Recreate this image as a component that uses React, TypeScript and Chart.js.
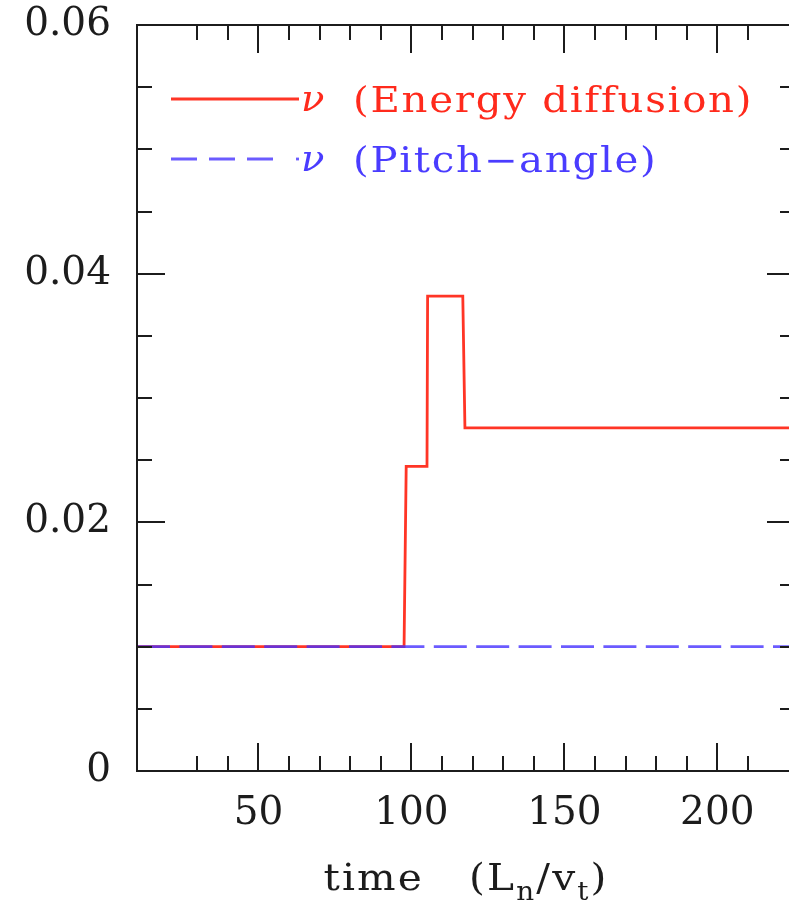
import { useEffect, useRef } from "react";
import { Chart, registerables } from "chart.js";

Chart.register(...registerables);

// Collision frequency for the energy-diffusion operator (step changes in time)
const energyTime = [10.3, 97.6, 98.3, 105.1, 105.3, 116.8, 117.5, 225.4];
const energyNu = [0.01, 0.01, 0.0245, 0.0245, 0.0382, 0.0382, 0.0276, 0.0276];

// Pitch-angle scattering frequency stays constant
const pitchTime = [10.3, 225.4];
const pitchNu = [0.01, 0.01];

const xRange = [10.3, 225.4];
const yRange = [0, 0.06];
const xMajorTicks = [50, 100, 150, 200];
const yMajorTicks = [0, 0.02, 0.04, 0.06];

const legendNames = ["(Energy diffusion)", "(Pitch\u2212angle)"];
const RED = "#ff3526";
const BLUE = "rgba(70, 50, 255, 0.8)";
const RED_TEXT = "#ff2a1c";
const BLUE_TEXT = "#4a3cff";
const INK = "#1c1c1c";
const SERIF = '"DejaVu Serif", serif';

const isMajorY = (v: number) => yMajorTicks.some((m) => Math.abs(m - v) < 1e-9);
const isMajorX = (v: number) => xMajorTicks.some((m) => Math.abs(m - v) < 1e-9);

// Draws text horizontally stretched, starting at x
function wideText(ctx: any, text: string, x: number, y: number, stretch: number, spacing: number) {
  ctx.save();
  ctx.translate(x, y);
  ctx.scale(stretch, 1);
  ctx.letterSpacing = `${spacing}px`;
  ctx.fillText(text, 0, 0);
  const w = ctx.measureText(text).width * stretch;
  ctx.restore();
  return w;
}

// Frame with inward-pointing ticks on all four sides, plus legend and axis title
const framePlugin = {
  id: "frameTicks",
  afterDraw(chart: any) {
    const { ctx, chartArea } = chart;
    const { left, right, top, bottom } = chartArea;
    const xs = chart.scales.x;
    const ys = chart.scales.y;
    ctx.save();
    ctx.strokeStyle = INK;
    ctx.lineWidth = 2;
    ctx.lineCap = "butt";
    ctx.strokeRect(left, top, right - left, bottom - top);

    ctx.beginPath();
    for (const t of xs.ticks) {
      const v = t.value;
      if (v <= xs.min + 1e-6 || v >= xs.max - 1e-6) continue;
      if (Math.abs(v / 10 - Math.round(v / 10)) > 1e-6) continue;
      const px = Math.round(xs.getPixelForValue(v));
      const len = isMajorX(v) ? 28 : 15;
      ctx.moveTo(px, bottom);
      ctx.lineTo(px, bottom - len);
      ctx.moveTo(px, top);
      ctx.lineTo(px, top + len);
    }
    for (const t of ys.ticks) {
      const v = t.value;
      if (v <= ys.min + 1e-9 || v >= ys.max - 1e-9) continue;
      const py = Math.round(ys.getPixelForValue(v));
      const len = isMajorY(v) ? 28 : 15;
      ctx.moveTo(left, py);
      ctx.lineTo(left + len, py);
      ctx.moveTo(right, py);
      ctx.lineTo(right - len, py);
    }
    ctx.stroke();

    // Legend
    const lx0 = 171;
    const lx1 = 299;
    const rows = [
      { y: 99, color: RED, text: RED_TEXT, dashed: false, name: legendNames[0] },
      { y: 159, color: BLUE, text: BLUE_TEXT, dashed: true, name: legendNames[1] },
    ];
    for (const r of rows) {
      ctx.strokeStyle = r.color;
      ctx.lineWidth = 2.8;
      ctx.beginPath();
      if (r.dashed) {
        ctx.setLineDash([26, 12]);
        ctx.moveTo(lx0, r.y);
        ctx.lineTo(lx0 + 102, r.y);
        ctx.stroke();
        ctx.setLineDash([]);
        ctx.beginPath();
        ctx.moveTo(lx1 - 3, r.y);
        ctx.lineTo(lx1, r.y);
      } else {
        ctx.moveTo(lx0, r.y);
        ctx.lineTo(lx1, r.y);
      }
      ctx.stroke();
      ctx.fillStyle = r.text;
      ctx.textBaseline = "alphabetic";
      ctx.textAlign = "left";
      ctx.font = `italic 35px ${SERIF}`;
      wideText(ctx, "\u03bd", lx1 + 2, r.y + 12, 1.1, 0);
      ctx.font = `35px ${SERIF}`;
      wideText(ctx, r.name, 353, r.y + 13, 1.15, 1.5);
    }

    // X-axis title: time (L_n/v_t)
    const pieces = [
      { t: "time   (L", sub: false },
      { t: "n", sub: true },
      { t: "/v", sub: false },
      { t: "t", sub: true },
      { t: ")", sub: false },
    ];
    const stretch = 1.07;
    let total = 0;
    const widths: number[] = [];
    (ctx as any).letterSpacing = "2px";
    for (const p of pieces) {
      ctx.font = p.sub ? `26px ${SERIF}` : `38px ${SERIF}`;
      const w = ctx.measureText(p.t).width * stretch;
      widths.push(w);
      total += w;
    }
    (ctx as any).letterSpacing = "0px";
    let x = (left + right) / 2 - total / 2;
    const base = 890;
    ctx.fillStyle = INK;
    pieces.forEach((p, i) => {
      ctx.font = p.sub ? `26px ${SERIF}` : `38px ${SERIF}`;
      wideText(ctx, p.t, x, p.sub ? base + 10 : base, stretch, 2);
      x += widths[i];
    });
    ctx.restore();
  },
};

export default function App() {
  const canvasRef = useRef<HTMLCanvasElement | null>(null);

  useEffect(() => {
    const canvas = canvasRef.current;
    if (!canvas) return;
    const chart = new Chart(canvas, {
      type: "line",
      data: {
        datasets: [
          {
            label: "\u03bd (Energy diffusion)",
            data: energyTime.map((t, i) => ({ x: t, y: energyNu[i] })),
            borderColor: RED,
            borderWidth: 2.8,
            pointRadius: 0,
            tension: 0,
            fill: false,
            order: 1,
          },
          {
            label: "\u03bd (Pitch-angle)",
            data: pitchTime.map((t, i) => ({ x: t, y: pitchNu[i] })),
            borderColor: BLUE,
            borderWidth: 2.8,
            borderDash: [33, 9.4],
            pointRadius: 0,
            tension: 0,
            fill: false,
            order: 0,
          },
        ],
      },
      options: {
        animation: false,
        responsive: false,
        devicePixelRatio: 1,
        layout: { padding: { top: 25, right: 15, left: 0, bottom: 0 } },
        plugins: {
          legend: { display: false },
          tooltip: { enabled: false },
        },
        scales: {
          x: {
            type: "linear",
            position: "bottom",
            min: xRange[0],
            max: xRange[1],
            grid: { display: false },
            border: { display: false },
            ticks: {
              stepSize: 10,
              autoSkip: false,
              maxRotation: 0,
              padding: 11,
              color: INK,
              font: { family: SERIF, size: 39 },
              callback: (v: any) => (isMajorX(Number(v)) ? String(v) : ""),
            },
            afterFit: (axis: any) => {
              axis.height = 133;
              axis.paddingLeft = 0;
              axis.paddingRight = 0;
            },
          },
          y: {
            type: "linear",
            min: yRange[0],
            max: yRange[1],
            grid: { display: false },
            border: { display: false },
            ticks: {
              stepSize: 0.005,
              autoSkip: false,
              padding: 18,
              color: INK,
              font: { family: SERIF, size: 39 },
              callback: (v: any) => {
                const n = Number(v);
                if (!isMajorY(n)) return "";
                return Math.abs(n) < 1e-12 ? "0" : n.toFixed(2);
              },
            },
            afterFit: (axis: any) => {
              axis.width = 137;
              axis.paddingTop = 0;
              axis.paddingBottom = 0;
            },
          },
        },
      },
      plugins: [framePlugin],
    } as any);
    return () => chart.destroy();
  }, []);

  return (
    <div
      style={{
        position: "fixed",
        left: 0,
        top: 0,
        width: 789,
        height: 904,
        overflow: "hidden",
        background: "#fff",
      }}
    >
      <canvas ref={canvasRef} width={810} height={904} style={{ display: "block" }} />
    </div>
  );
}
